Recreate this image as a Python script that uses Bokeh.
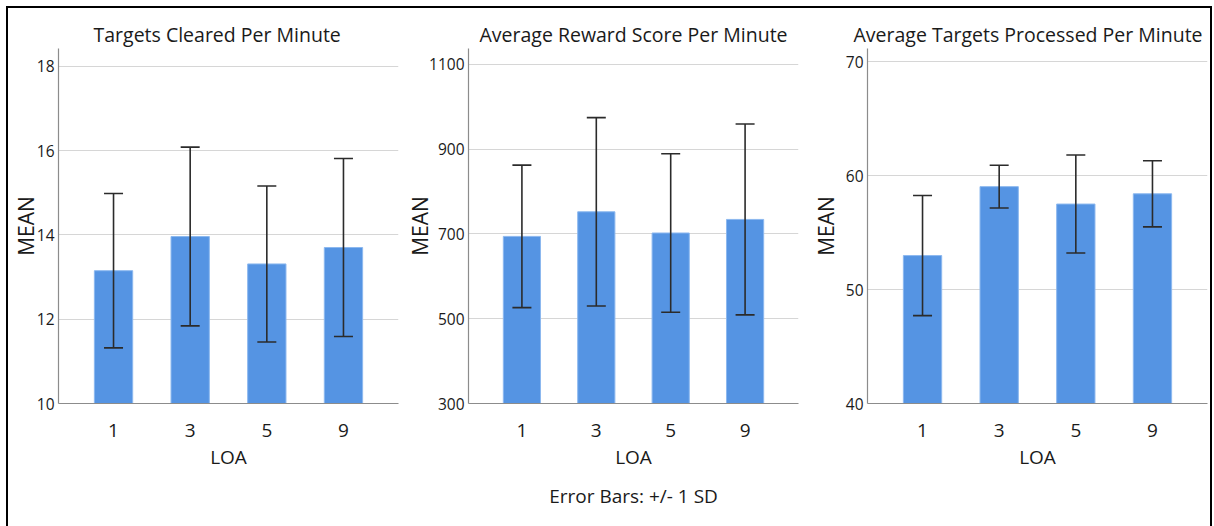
from bokeh.plotting import figure
from bokeh.models import (FactorRange, Range1d, FixedTicker, ColumnDataSource, Whisker,
                          TeeHead, Title)
from bokeh.layouts import row
from bokeh.embed import file_html
from bokeh.resources import INLINE

loa = ["1", "3", "5", "9"]

cleared_mean = [13.15, 13.96, 13.31, 13.70]
cleared_sd = [1.83, 2.12, 1.85, 2.11]
reward_mean = [694, 752, 702, 734]
reward_sd = [168, 222, 187, 225]
processed_mean = [52.98, 59.03, 57.50, 58.40]
processed_sd = [5.27, 1.88, 4.30, 2.90]

cleared_ticks = [10, 12, 14, 16, 18]
reward_ticks = [300, 500, 700, 900, 1100]
processed_ticks = [40, 50, 60, 70]

titles = ["Targets Cleared Per Minute", "Average Reward Score Per Minute",
          "Average Targets Processed Per Minute"]

FONT = "Open Sans"
TXT = "#1a1a1a"


def panel(title, mean, sd, ticks, y0, y1, width, height, left, right, top, bottom,
          talign, toff, lab_standoff):
    src = ColumnDataSource(dict(
        x=loa, top=mean,
        lo=[m - s for m, s in zip(mean, sd)],
        hi=[m + s for m, s in zip(mean, sd)],
    ))
    p = figure(x_range=FactorRange(*loa, range_padding=0.109), y_range=Range1d(y0, y1),
               width=width, height=height, output_backend="svg", toolbar_location=None,
               min_border_left=left, min_border_right=right,
               min_border_top=top, min_border_bottom=bottom)
    p.title.text = title
    p.title.align = talign
    p.title.offset = toff
    p.title.text_font = FONT
    p.title.text_font_size = "19.5px"
    p.title.text_font_style = "normal"
    p.title.text_color = TXT
    p.title.standoff = 2
    p.vbar(x="x", top="top", bottom=y0, width=0.5, source=src,
           fill_color="#5594e3", line_color="#8cb8ef", line_width=1)
    w = Whisker(base="x", lower="lo", upper="hi", source=src, level="annotation",
                line_color="#2b2b2b", line_width=1.6,
                upper_head=TeeHead(size=19, line_color="#2b2b2b", line_width=1.6),
                lower_head=TeeHead(size=19, line_color="#2b2b2b", line_width=1.6))
    p.add_layout(w)
    p.outline_line_color = None
    p.xgrid.grid_line_color = None
    p.ygrid.grid_line_color = "#d6d6d6"
    p.ygrid.grid_line_width = 1
    p.yaxis.ticker = FixedTicker(ticks=ticks)
    for ax in (p.xaxis[0], p.yaxis[0]):
        ax.axis_line_color = "#8c8c8c"
        ax.axis_line_width = 1.2
        ax.major_tick_line_color = None
        ax.minor_tick_line_color = None
        ax.major_tick_out = 0
        ax.major_tick_in = 0
        ax.major_label_text_font = FONT
        ax.major_label_text_color = TXT
        ax.axis_label_text_font = FONT
        ax.axis_label_text_color = TXT
        ax.axis_label_text_font_style = "normal"
        ax.axis_label_text_font_size = "19px"
    p.yaxis.major_label_text_font_size = "15.5px"
    p.yaxis.major_label_standoff = 4
    p.yaxis.axis_label = "MEAN"
    p.yaxis.axis_label_text_font_size = "21px"
    p.yaxis.axis_label_standoff = lab_standoff
    p.xaxis.major_label_text_font_size = "19px"
    p.xaxis.major_label_standoff = 20
    p.xaxis.axis_label = "LOA"
    p.xaxis.axis_label_standoff = 4
    return p


H = 518
p1 = panel(titles[0], cleared_mean, cleared_sd, cleared_ticks, 10, 18.42,
           392, H, 50, 2, 38, 122, "left", 35, -6)
p2 = panel(titles[1], reward_mean, reward_sd, reward_ticks, 300, 1137,
           408, H, 68, 10, 39, 121, "center", 0, -8)
p3 = panel(titles[2], processed_mean, processed_sd, processed_ticks, 40, 71.15,
           402, H, 59, 3, 40, 123, "left", -14, 3)

p2.add_layout(Title(text="Error Bars: +/- 1 SD", align="center", text_font=FONT,
                    text_font_size="19px", text_font_style="normal", text_color=TXT,
                    standoff=16), "below")

layout = row(p1, p2, p3, margin=(6, 0, 0, 6), styles={"border": "2px solid black"})

open("out.html", "w").write(file_html(layout, INLINE))
